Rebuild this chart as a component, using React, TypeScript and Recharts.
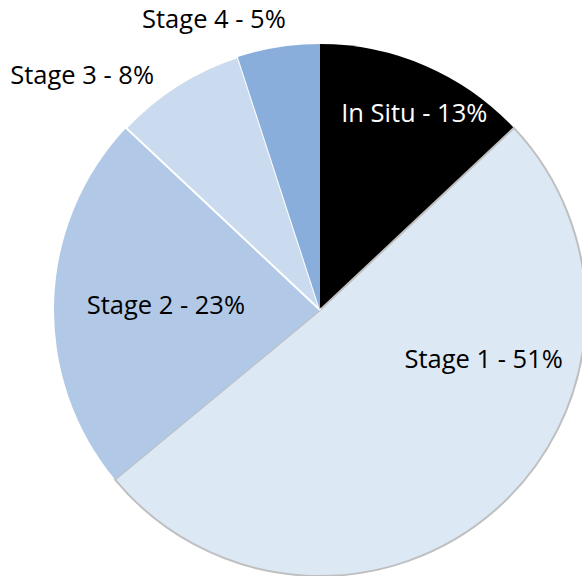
import { Cell, Pie, PieChart } from "recharts";

const stages = ["In Situ", "Stage 1", "Stage 2", "Stage 3", "Stage 4"];
const shares = [13, 51, 23, 8, 5];

const sliceColors = ["#000000", "#dde8f5", "#b1c8e6", "#cbdbef", "#8aaedb"];
const sliceStrokes = ["none", "#bfbfbf", "none", "#ffffff", "none"];
const labelColors = ["#ffffff", "#000000", "#000000", "#000000", "#000000"];
// label placement: radius as a fraction of the outer radius, clockwise angle shift in degrees
const labelRadius = [0.82, 0.642, 0.58, 1.258, 1.166];
const labelShift = [2.2, -32, 0.2, -12.9, -11];

const data = stages.map((name, i) => ({ name, value: shares[i] }));

const RAD = Math.PI / 180;

function renderLabel(props: any) {
  const { cx, cy, midAngle, outerRadius, index, name, value } = props;
  // recharts angles run counter-clockwise from 3 o'clock
  const angle = midAngle - labelShift[index];
  const r = outerRadius * labelRadius[index];
  const x = cx + r * Math.cos(-angle * RAD);
  const y = cy + r * Math.sin(-angle * RAD);
  return (
    <text
      x={x}
      y={y + 9}
      textAnchor="middle"
      fill={labelColors[index]}
      fontSize={25.5}
      fontFamily="'Open Sans', sans-serif"
    >
      {`${name} - ${value}%`}
    </text>
  );
}

export default function App() {
  return (
    <div style={{ position: "absolute", left: 0, top: 0, width: 582, height: 576, background: "#ffffff" }}>
      <PieChart width={582} height={576} margin={{ top: 0, right: 0, bottom: 0, left: 0 }}>
        <Pie
          data={data}
          dataKey="value"
          nameKey="name"
          cx={320}
          cy={310}
          outerRadius={266}
          startAngle={90}
          endAngle={-270}
          label={renderLabel}
          labelLine={false}
          isAnimationActive={false}
        >
          {data.map((d, i) => (
            <Cell key={d.name} fill={sliceColors[i]} stroke={sliceStrokes[i]} strokeWidth={2} />
          ))}
        </Pie>
      </PieChart>
    </div>
  );
}
